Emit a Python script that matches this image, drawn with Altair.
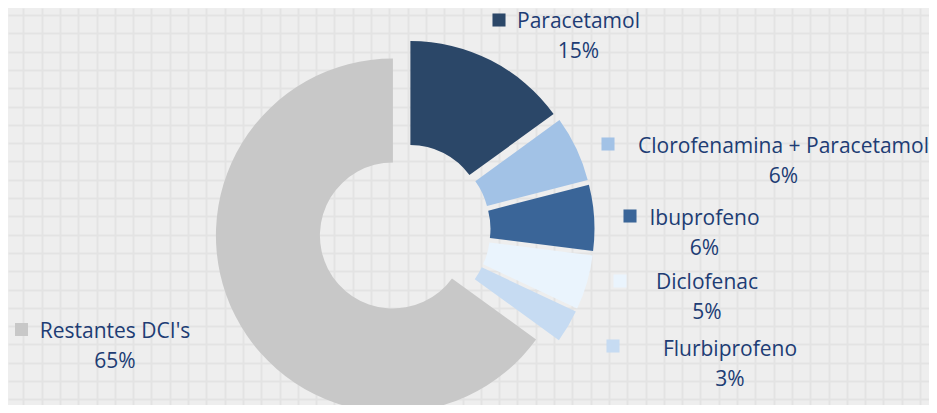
import altair as alt
import pandas as pd
import numpy as np

# ---- data ----
categories = ["Paracetamol", "Clorofenamina + Paracetamol", "Ibuprofeno",
              "Diclofenac", "Flurbiprofeno", "Restantes DCI's"]
shares = [15, 6, 6, 5, 3, 65]
pct_labels = ["15%", "6%", "6%", "5%", "3%", "65%"]

# ---- styles / layout ----
colors = ["#2B4768", "#A2C2E6", "#3A6598", "#EAF4FD", "#C6DBF2", "#C8C8C8"]
label_x = [570.5, 775.5, 696.5, 699, 722, 107]      # centre of label text
label_y = [14, 139, 210.7, 274.7, 341.7, 324]        # centre of first label line
marker_x = [491, 600, 622, 612, 605, 13.5]
marker_y = [12, 136, 208, 273, 338, 321.5]

W, H = 921, 397
CX, CY = 396.5, 221.6
R_OUT, R_IN, EXPLODE = 177, 73, 13
TEXT_COLOR = "#203C74"
FONT = "Open Sans"
FSIZE = 21

df = pd.DataFrame({
    "category": categories,
    "share": shares,
    "pct": pct_labels,
    "order": list(range(len(categories))),
    "lx": label_x,
    "ly": label_y,
    "mx": marker_x,
    "my": marker_y,
})

xs = alt.Scale(domain=[0, W], nice=False, zero=False)
ys = alt.Scale(domain=[0, H], nice=False, zero=False, reverse=True)
x_axis = alt.Axis(values=[round(v, 1) for v in np.arange(15.3, W, 18.3)], grid=True,
                  gridColor="#E3E3E3", gridWidth=2, labels=False, ticks=False,
                  domain=False, title=None)
y_axis = alt.Axis(values=[round(v, 1) for v in np.arange(7, H, 18.3)], grid=True,
                  gridColor="#E3E3E3", gridWidth=2, labels=False, ticks=False,
                  domain=False, title=None)


def X(f):
    return alt.X(f, type="quantitative", scale=xs, axis=x_axis)


def Y(f):
    return alt.Y(f, type="quantitative", scale=ys, axis=y_axis)


color = alt.Color("category:N", scale=alt.Scale(domain=categories, range=colors), legend=None)

base = alt.Chart(df)

arcs = base.mark_arc(outerRadius=R_OUT, innerRadius=R_IN, stroke=None).transform_window(
    cum="sum(share)", sort=[alt.SortField("order")], frame=[None, 0]
).transform_joinaggregate(
    total="sum(share)"
).transform_calculate(
    t1="datum.cum / datum.total * 2 * PI",
    t0="(datum.cum - datum.share) / datum.total * 2 * PI",
).transform_calculate(
    mid="(datum.t0 + datum.t1) / 2"
).transform_calculate(
    cx=f"{CX} + {EXPLODE} * sin(datum.mid)",
    cy=f"{CY} - {EXPLODE} * cos(datum.mid)",
).encode(
    x=X("cx"),
    y=Y("cy"),
    theta=alt.Theta("t0:Q", scale=None),
    theta2="t1:Q",
    color=color,
)

markers = base.mark_square(size=170, opacity=1, filled=True).encode(
    x=X("mx"), y=Y("my"), color=color
)

names = base.mark_text(font=FONT, fontSize=FSIZE, color=TEXT_COLOR, align="center",
                       baseline="middle").encode(x=X("lx"), y=Y("ly"), text="category:N")

pcts = base.mark_text(font=FONT, fontSize=FSIZE, color=TEXT_COLOR, align="center",
                      baseline="middle", dy=30).encode(x=X("lx"), y=Y("ly"), text="pct:N")

chart = alt.layer(arcs, markers, names, pcts).properties(
    width=W, height=H, padding=0, autosize="none"
).configure(background="#EEEEEE").configure_view(stroke=None, fill="#EEEEEE")

chart.save("out.html", embed_options={"renderer": "svg", "actions": False})
